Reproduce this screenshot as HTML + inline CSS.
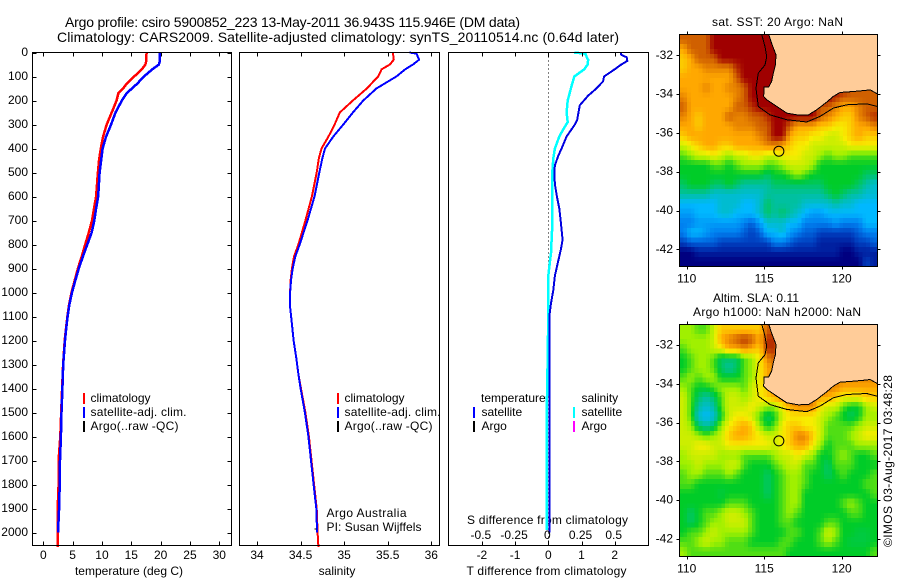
<!DOCTYPE html>
<html>
<head>
<meta charset="utf-8">
<title>Argo profile</title>
<style>
html,body{margin:0;padding:0;background:#fff;}
svg{display:block;}
text{font-family:"Liberation Sans",sans-serif;font-size:12px;fill:#000;}
</style>
</head>
<body>
<svg id="chart" xmlns="http://www.w3.org/2000/svg" width="900" height="580" viewBox="0 0 900 580">
<defs>
<clipPath id="clip-sst"><rect x="679.5" y="34.5" width="198" height="232"/></clipPath>
<clipPath id="clip-sla"><rect x="679.5" y="324.5" width="198" height="232"/></clipPath>
</defs>
<text x="65" y="27" style="font-size:14px" textLength="455">Argo profile: csiro 5900852_223 13-May-2011 36.943S 115.946E (DM data)</text>
<text x="57" y="42" style="font-size:14px" textLength="562">Climatology: CARS2009. Satellite-adjusted climatology: synTS_20110514.nc (0.64d later)</text>
<text x="712" y="26" textLength="131">sat. SST: 20 Argo: NaN</text>
<text x="713" y="302" textLength="86">Altim. SLA: 0.11</text>
<text x="693" y="316" textLength="168">Argo h1000: NaN h2000: NaN</text>
<text transform="translate(892,547) rotate(-90)" textLength="172">©IMOS 03-Aug-2017 03:48:28</text>

<text x="90.5" y="402">climatology</text>
<text x="90.5" y="416" textLength="96">satellite-adj. clim.</text>
<text x="90.5" y="430" textLength="88">Argo(..raw -QC)</text>
<text x="344.5" y="402">climatology</text>
<text x="344.5" y="416" textLength="96">satellite-adj. clim.</text>
<text x="344.5" y="430" textLength="88">Argo(..raw -QC)</text>
<text x="326.5" y="517" textLength="80">Argo Australia</text>
<text x="326.5" y="531" textLength="95">PI: Susan Wijffels</text>
<text x="481" y="402">temperature</text>
<text x="481.5" y="416">satellite</text>
<text x="481.5" y="430">Argo</text>
<text x="581.5" y="402">salinity</text>
<text x="581.5" y="416">satellite</text>
<text x="581.5" y="430">Argo</text>
<text x="467" y="524" textLength="161">S difference from climatology</text>
<text x="129" y="575" text-anchor="middle">temperature (deg C)</text>
<text x="337" y="575" text-anchor="middle">salinity</text>
<text x="546.5" y="575" text-anchor="middle" textLength="160">T difference from climatology</text>
</svg>
<script>
// ---------- profile data ----------
const tempDepths = [0,40,50,70,100,130,150,170,200,250,300,350,400,450,500,600,650,700,750,800,850,900,950,1000,1050,1100,1150,1200,1300,1400,1500,1600,1700,1800,1900,2000,2060];
const tempClim = [17.6,17.5,17.4,16.8,15.5,14.2,13.6,12.8,12.5,11.65,10.8,10.2,9.8,9.5,9.3,9.0,8.65,8.3,7.75,7.15,6.55,5.9,5.35,4.8,4.4,4.1,3.87,3.65,3.38,3.2,3.05,2.9,2.6,2.6,2.45,2.45,2.45];
const tempSat = [19.8,19.8,19.7,18.6,17.15,16,15.1,14.2,13.4,12.3,11.55,10.7,10.1,9.85,9.6,9.35,9,8.7,8.25,7.5,6.75,6.05,5.45,4.9,4.45,4.15,3.9,3.7,3.4,3.25,3.1,3,2.85,2.8,2.7,2.5];
const salDepths = [0,5,30,50,70,100,150,200,250,300,350,400,440,500,600,700,800,850,900,950,1000,1060,1130,1200,1270,1340,1400,1500,1600,1700,1800,1900,2000,2060];
const salClim = [35.56,35.56,35.57,35.525,35.43,35.39,35.26,35.10,34.95,34.89,34.82,34.74,34.71,34.685,34.63,34.555,34.475,34.425,34.40,34.385,34.38,34.38,34.40,34.42,34.45,34.475,34.505,34.555,34.595,34.625,34.655,34.685,34.695,34.705];
const salSat = [35.75,35.83,35.86,35.79,35.70,35.6,35.37,35.22,35.1,34.99,34.875,34.78,34.75,34.715,34.66,34.58,34.49,34.44,34.41,34.39,34.38,34.38,34.40,34.42,34.45,34.475,34.5,34.55,34.59,34.62,34.65,34.68,34.69];
const argoSalDepths = [1985,1985];
const argoSalValues = [34.66,34.68];
const tDiffDepths = [0,10,20,35,50,70,100,120,150,180,220,280,300,350,400,430,470,500,550,600,650,710,780,820,880,930,990,1045,1090,1200,2000];
const tDiffSat = [2.18,2.2,2.36,2.38,2.2,2,1.68,1.65,1.45,1.2,.95,.87,.8,.55,.4,.3,.2,.18,.2,.26,.33,.38,.43,.38,.28,.2,.15,.08,.04,.04,.04];
const sDiffDepths = [0,5,20,30,50,70,100,130,150,200,250,290,320,350,400,440,500,600,720,780,835,890,930,1100,1400,1500,1990];
const sDiffSat = [.196,.28,.29,.30,.297,.27,.196,.18,.17,.146,.138,.146,.113,.083,.05,.038,.03,.03,.03,.025,.02,.008,0,0,-.008,-.0125,-.0125];
const depthTicks = [0,100,200,300,400,500,600,700,800,900,1000,1100,1200,1300,1400,1500,1600,1700,1800,1900,2000];
const tempTicks = [0,5,10,15,20,25,30];
const salTicks = [34,34.5,35,35.5,36];
const tDiffTicks = [-2,-1,0,1,2];
const sDiffTicks = [-0.5,-0.25,0,0.25,0.5];
// ---------- map data (colour-scale levels, 0 = coldest/lowest, 10 = warmest/highest) ----------
const sstLevels = [
[9,9,9,9,10,10,10,10,10,10,10,10,10,10,10,10,10,10,10,10,10,10,10,10,10,10],
[8,9,9,9,10,10,10,10,10,10,10,10,10,10,10,10,10,10,10,10,10,10,10,10,10,10],
[7.5,8,9,9,9,10,10,10,10,10,10,10,10,10,10,10,10,10,10,10,10,10,10,10,10,10],
[7.5,8,8,8.5,8.5,8.5,8.5,9.5,10,10,10,10,10,10,10,10,10,10,10,10,10,10,10,10,10,10],
[8,8,8,8,8,8,8,9,10,10,10,10,10,10,10,10,10,10,10,10,10,10,10,10,10,10],
[8,8,8,8.5,8,8,8.5,8.5,9,10,10,10,10,10,10,10,10,10,10,10,10,10,9,9,9,9],
[8.5,8,8,8,8,8,8,8.5,9,10,10,10,10,10,10,10,10,10,10,10,9.5,9,9,9,9,9],
[9,8,8,8,8,8,8,9,9,9.5,10,10,10,10,10,10,10,10,9,9,8.5,8,8,8.5,9,9],
[8.5,8,7.5,8,8,8,9,8.5,8.5,9,9,9.5,10,10,10,10,10,10,9,8.5,8,7.5,7.5,8.5,9,9.5],
[8,8,7.5,8,8,8,8,8.5,8.5,8.5,9,9,10,10,9,8,8,8,7.5,7.5,7,7,7.5,8,8,8.5],
[7.5,8,8,8,8,8,8,8,8,8,8.5,9,10,10,8,7.5,7.5,7,7,6.5,6.5,7,7.5,8,7.5,7.5],
[6.5,7,7.5,8,8,7.5,7.5,8,8,8,8,8.5,8.5,8,7.5,7,7,6.5,6.5,6.5,6.5,6.5,7,7,7,7],
[5.5,6,6.5,6.5,7,6.5,6,6.5,6.5,7,7,6.5,6.5,7,7,7,6.5,6.5,6,5.5,6,6,5.5,5.5,5.5,5.5],
[5,5,5,5,5.5,5.5,5,5.5,6,6,6,5.5,5.5,6,6.5,6.5,6.5,6,5,5,5,5,5,5,5,5],
[5,5,5,5,5,5,5,5,5,5,5,4.5,5,5,5.5,6,5.5,5,5,5,5,5,5,5,4.5,4.5],
[4.5,5,5,5,4.5,4.5,5,4.5,4,4,4,4,4.5,4.5,4.5,4.5,4.5,4.5,4.5,5,5,5,5,4.5,4,3.5],
[4,4,4,4,3.5,3.5,3.5,3.5,3.5,3.5,3.5,4,4,4,4,4,4,4,4,4.5,5,4.5,4,4,3.5,3.5],
[3,3,3,3,3,3.5,3.5,3.5,3,3,3.5,4.5,4,4,4,4,3.5,3.5,3.5,3.5,4,3.5,3.5,3,3,3],
[2.5,2.5,3,3,3,3.5,3.5,3,3,3,3.5,4.5,4,4.5,4,3.5,3,2.5,2.5,3,3,3,3,3,3,3],
[2,2,2.5,2.5,2.5,2.5,2.5,2.5,2,1.5,2.5,3.5,3.5,3.5,3,3,2,2,2,2,2.5,2,2,2,3,3],
[2,3,3,2.5,2,2,2,2,1.5,1,1.5,3,3,3.5,2.5,2,1.5,1.5,1,1,1,1,1,1.5,2,2],
[1,1.5,1.5,1.5,1.5,1,1,1,1,1,1,1,2,2,1.5,1,1,1,.5,.5,.5,.5,.5,1,1,1.5],
[0,0,.5,.5,.5,.5,.5,.5,.5,.5,.5,.5,.5,.5,.5,.5,.5,.5,.5,.5,.5,0,0,.5,.5,.5],
[0,0,0,0,0,0,0,0,0,0,0,0,0,0,0,0,0,0,0,0,0,0,0,0,1,.5]
];
const slaLevels = [
[6,6,5.5,5.5,6.5,7.5,7.5,7.5,7.5,7.5,7.5,9,9,8,8,8,8,8,8,8,8,8,8,8,8,8],
[6,6,6,6,6.5,8,8.5,9,9.5,9,8,9.5,9.5,8,8,8,8,8,8,8,8,8,8,8,8,8],
[5.5,6,6,6,6.5,7,8,8,8.5,8,7.5,9.5,9.5,8,8,8,8,8,8,8,8,8,8,8,8,8],
[5,5.5,6,6,5.5,4.5,4.5,4.5,5.5,6,7,8.5,9,8,8,8,8,8,8,8,8,8,8,8,8,8],
[5,5.5,6,6,5.5,4.5,4,4.5,5.5,6,7,8,8.5,8,8,8,8,8,8,8,8,8,8,8,8,8],
[5.5,6,5.5,6,6,5,5,5,5.5,6,7,8,8.5,8.5,8.5,8.5,8.5,8.5,8.5,8.5,8.5,8.5,8.5,8.5,8.5,8.5],
[6,5.5,5,5,5.5,6,6,6,5.5,6.5,7,7.5,8.5,8.5,8.5,8.5,8.5,8.5,8.5,8.5,8.5,8,8,8,8,8],
[6.5,5.5,4.5,4,4.5,5.5,6.5,6.5,6,6.5,7,7.5,8,8.5,8.5,8.5,8.5,8.5,8,8,7.5,7,7,7,7.5,7.5],
[6.5,5.5,4,3.5,4,5.5,6.5,6.5,6.5,7,6.5,6,6,7,8,8.5,8.5,8.5,7,6.5,6.5,5.5,5,5,6,6.5],
[6.5,5.5,3.5,3,3.5,5,6.5,7,7,6.5,5.5,4.5,5,6.5,7,7,7,7,6.5,6,5.5,5,4.5,5,6,6],
[6.5,6,4.5,4,4.5,6,7,7.5,8,7.5,6,5,5.5,7,7.5,7.5,7,7,6.5,5.5,5.5,5.5,5.5,6,6.5,6.5],
[6.5,6.5,6,5.5,6,6.5,7.5,8,8,7.5,7,6.5,6.5,7,7.5,8.5,8.5,7.5,6.5,5.5,5.5,5.5,6,6.5,7,7],
[6.5,6.5,7,7,6.5,6.5,7,7,7,7,7,7,6.5,7,7.5,8,8,7,6,5,5.5,5.5,5.5,6,6,6],
[6,6.5,6.5,6.5,6.5,6,6,6,5.5,5.5,5.5,5.5,6,6.5,6.5,7,6.5,6,5,5,5.5,6,5.5,5,5,5.5],
[6,6,6.5,6,6,6,6.5,6.5,5.5,5,5,5,5.5,6,6.5,6.5,5.5,5.5,5,4.5,5.5,5.5,5.5,5,5,5],
[5.5,6,6,5.5,5.5,5.5,6,5.5,5,5,5,4.5,5,5.5,6,6,5.5,5,5,4.5,5,5.5,5,5,5,5.5],
[5.5,5.5,5,5,5,5,5,5,5,5,5,4.5,5,5.5,6,6,5.5,5,5,5,5,5,5,5,5.5,5.5],
[5,5,5,5,5,4.8,5,5,5,5,5,4.5,5,5.5,6,6,5,5,5,5,5,5,5,5,5,5.5],
[5,5,5,5,5,5,5.5,5.5,5.5,5,5,5,5,5.5,6,6,5,5,5,5,5,5.5,6,5.5,5,5],
[5,4.5,5,5.5,5.5,6,6.5,6.5,6,5.5,5,5,5,5.5,6,5.5,5,5,5,5,5,5,5.5,5.5,5,5],
[5,4.5,5,5.5,6,6,6.5,6.5,6.5,5.5,5,5,5,5.5,5.5,5,5,5,5,5.5,5.5,5,5,5,5,5],
[5,5.5,5.5,6,6.5,6,6,6,6,5.5,5,5,5,5,5.5,5.5,5,5,5.5,6.5,6,5,5,4.8,4.8,5],
[5.5,5.5,6,6.5,6,6,5.5,5.5,5.5,5,5,5,5,5.5,5.5,5,5,5,5.5,6,5.5,5,4.8,4.8,4.8,5],
[6,5.5,5.5,5.5,5.5,5.5,5.5,5.5,5.5,5.5,5.5,5.5,5.5,5.5,5,5,5,5,5,5,5,5,5,5,5,5.5]
];
const coastLon = [115.29,115.48,115.76,115.72,115.59,115.48,115.29,114.99,114.97,115.16,115.81,116.45,117.20,117.85,118.39,119.03,119.46,119.89,120.65,121.40,121.83,122.30];
const coastLat = [-30.92,-31.38,-31.98,-32.50,-32.92,-33.35,-33.64,-33.64,-34.12,-34.29,-34.64,-34.98,-35.08,-35.07,-34.81,-34.41,-34.12,-33.92,-33.87,-33.82,-33.78,-33.99];
const isobathLon = [114.84,115.05,115.16,115.05,114.62,114.47,114.62,115.38,116.45,117.74,118.6,119.46,120.32,121.61,122.3];
const isobathLat = [-30.92,-31.55,-32.07,-32.5,-32.92,-33.7,-34.64,-35.07,-35.32,-35.44,-35.15,-34.72,-34.55,-34.5,-34.64];
const argoLon = 115.946;
const argoLat = -36.943;
const lonTicks = [110,115,120];
const latTicks = [-32,-34,-36,-38,-40,-42];
const colourStops = ['#000080','#0040c0','#0080f0','#00b8ff','#00c0a0','#00cc28','#a0f000','#f8ec00','#ffa800','#d06000','#a00000'];

// ---------- helpers ----------
const svg = document.getElementById('chart');
const NS = 'http://www.w3.org/2000/svg';
function mk(tag, attrs, parent){
  const e = document.createElementNS(NS, tag);
  for (const k in attrs) e.setAttribute(k, attrs[k]);
  (parent || svg).appendChild(e);
  return e;
}
function label(str, x, y, anchor){
  const t = mk('text', {x:x, y:y, 'text-anchor':anchor||'middle'});
  t.textContent = str;
  return t;
}
const yDepth = d => 52.5 + d * 0.24;
const xTemp = v => 43.3 + v * 5.867;
const xSal = v => 257 + (v - 34) * 87.15;
const xTDiff = v => 548.3 + v * 33.2;
const xSDiff = v => 548.3 + v * 132.8;
const xLon = v => 686.7 + (v - 110) * 15.5;
const ySstLat = v => 55.3 + (-32 - v) * 19.4;
const ySlaLat = v => 345 + (-32 - v) * 19.4;

function hexToRgb(h){ return [1,3,5].map(i => parseInt(h.substr(i,2),16)); }
function colourFor(level){
  const l = Math.max(0, Math.min(10, level));
  const i = Math.min(9, Math.floor(l));
  const f = l - i;
  const a = hexToRgb(colourStops[i]), b = hexToRgb(colourStops[i+1]);
  return 'rgb(' + a.map((c,k) => Math.round(c + (b[k]-c)*f)).join(',') + ')';
}

function drawProfile(xf, depths, values, colour, width, name){
  const n = Math.min(depths.length, values.length);
  const pts = [];
  for (let i = 0; i < n; i++) pts.push(xf(values[i]).toFixed(1) + ',' + yDepth(depths[i]).toFixed(1));
  const line = mk('polyline', {points:pts.join(' '), fill:'none', stroke:colour, 'stroke-width':width, 'shape-rendering':'crispEdges'});
  
  
}

function drawPanel(left, width, xf, ticks, tickText, name, yTicks){
  const top = 52.5, bottom = 545.5;
  const frame = mk('rect', {x:left, y:top, width:width, height:bottom-top, fill:'none', stroke:'#000', 'stroke-width':1, 'shape-rendering':'crispEdges'});
  
  
  ticks.forEach(t => {
    const x = Math.round(xf(t)) + 0.5;
    const tk = mk('path', {d:'M'+x+' '+top+'v4M'+x+' '+bottom+'v-4', stroke:'#000', fill:'none', 'shape-rendering':'crispEdges'});
    
    
    const lb = label(tickText(t), xf(t), 559);
    
    
  });
  if (yTicks) {
    depthTicks.forEach(d => {
      const y = Math.round(yDepth(d)) + 0.5;
      const tk = mk('path', {d:'M'+left+' '+y+'h4M'+(left+width)+' '+y+'h-4', stroke:'#000', fill:'none', 'shape-rendering':'crispEdges'});
      
      
      const lb = label(String(d), 28, yDepth(d) + 3.5, 'end');
      
      
    });
  }
}

function legendBar(x, y, colour, name){
  const r = mk('rect', {x:x, y:y, width:2, height:11, fill:colour, 'shape-rendering':'crispEdges'});
  
  
}

function drawMap(levels, yLat, top, clipId, name){
  const g = mk('g', {'clip-path':'url(#' + clipId + ')'});
  
  
  const rows = levels.length, cols = levels[0].length;
  const cw = 198 / (cols * 2), ch = 232 / (rows * 2);
  const at = (r,c) => levels[Math.max(0,Math.min(rows-1,r))][Math.max(0,Math.min(cols-1,c))];
  for (let j = 0; j < rows * 2; j++) {
    for (let i = 0; i < cols * 2; i++) {
      const u = (i - 0.5) / 2, v = (j - 0.5) / 2;
      const c0 = Math.floor(u), r0 = Math.floor(v);
      const fu = u - c0, fv = v - r0;
      const val = (at(r0,c0)*(1-fu) + at(r0,c0+1)*fu)*(1-fv) + (at(r0+1,c0)*(1-fu) + at(r0+1,c0+1)*fu)*fv;
      const cell = mk('rect', {x:(679.5+i*cw).toFixed(2), y:(top+j*ch).toFixed(2), width:(cw+0.6).toFixed(2), height:(ch+0.6).toFixed(2), fill:colourFor(val), 'shape-rendering':'crispEdges'}, g);
      
      
    }
  }
  const coastPts = coastLon.map((lo,i) => xLon(lo).toFixed(1) + ',' + yLat(coastLat[i]).toFixed(1));
  const land = mk('polygon', {points:coastPts.join(' ') + ' ' + xLon(123).toFixed(1) + ',' + yLat(coastLat[coastLat.length-1]).toFixed(1) + ' ' + xLon(123).toFixed(1) + ',' + yLat(-30).toFixed(1) + ' ' + xLon(coastLon[0]).toFixed(1) + ',' + yLat(-30).toFixed(1), fill:'#ffcc99', stroke:'#000', 'stroke-width':1, 'shape-rendering':'crispEdges'}, g);
  
  
  const iso = mk('polyline', {points:isobathLon.map((lo,i) => xLon(lo).toFixed(1) + ',' + yLat(isobathLat[i]).toFixed(1)).join(' '), fill:'none', stroke:'#000', 'stroke-width':1, 'shape-rendering':'crispEdges'}, g);
  
  
  const dot = mk('circle', {cx:xLon(argoLon), cy:yLat(argoLat), r:5, fill:'none', stroke:'#000', 'stroke-width':1});
  
  
  const frame = mk('rect', {x:679.5, y:top, width:198, height:232, fill:'none', stroke:'#000', 'shape-rendering':'crispEdges'});
  
  
  lonTicks.forEach(t => {
    const x = Math.round(xLon(t)) + 0.5;
    const tk = mk('path', {d:'M'+x+' '+top+'v-3M'+x+' '+(top+232)+'v3', stroke:'#000', fill:'none', 'shape-rendering':'crispEdges'});
    
    
    const lb = label(String(t), xLon(t), top + 248);
    
    
  });
  latTicks.forEach(t => {
    const y = Math.round(yLat(t)) + 0.5;
    const tk = mk('path', {d:'M679.5 '+y+'h-3M877.5 '+y+'h3', stroke:'#000', fill:'none', 'shape-rendering':'crispEdges'});
    
    
    const lb = label(String(t), 673, yLat(t) + 3.5, 'end');
    
    
  });
}

// ---------- build ----------
drawMap(sstLevels, ySstLat, 34.5, 'clip-sst', 'sst');
drawMap(slaLevels, ySlaLat, 324.5, 'clip-sla', 'sla');

drawProfile(xTemp, tempDepths, tempClim, '#ff0000', 2.5, 'temperature-climatology-line');
drawProfile(xTemp, tempDepths, tempSat, '#0000ff', 2.5, 'temperature-satellite-line');
drawProfile(xSal, salDepths, salClim, '#ff0000', 2, 'salinity-climatology-line');
drawProfile(xSal, salDepths, salSat, '#0000ff', 2, 'salinity-satellite-line');
drawProfile(xSal, argoSalDepths, argoSalValues, '#000000', 1, 'salinity-argo-mark');

const zeroLine = mk('line', {x1:xTDiff(0), x2:xTDiff(0), y1:yDepth(0), y2:545, stroke:'#000', 'stroke-dasharray':'1 3', 'shape-rendering':'crispEdges'});


drawProfile(xSDiff, sDiffDepths, sDiffSat, '#00ffff', 2.5, 'salinity-difference-line');
drawProfile(xTDiff, tDiffDepths, tDiffSat, '#0000e0', 2, 'temperature-difference-line');

drawPanel(32.5, 199, xTemp, tempTicks, String, 'temperature-panel', true);
drawPanel(239.5, 200, xSal, salTicks, String, 'salinity-panel', false);
drawPanel(448.5, 200, xTDiff, tDiffTicks, String, 'difference-panel', false);

sDiffTicks.forEach(t => {
  const lb = label(String(t), xSDiff(t) - 1, 539);
  
  
});

legendBar(83, 393, '#ff0000', 'legend-climatology-swatch');
legendBar(83, 407, '#0000ff', 'legend-satellite-swatch');
legendBar(83, 421, '#000000', 'legend-argo-swatch');
legendBar(337, 393, '#ff0000', 'sal-legend-climatology-swatch');
legendBar(337, 407, '#0000ff', 'sal-legend-satellite-swatch');
legendBar(337, 421, '#000000', 'sal-legend-argo-swatch');
legendBar(473, 407, '#0000ff', 'diff-legend-t-satellite-swatch');
legendBar(473, 421, '#000000', 'diff-legend-t-argo-swatch');
legendBar(573, 407, '#00ffff', 'diff-legend-s-satellite-swatch');
legendBar(573, 421, '#ff00ff', 'diff-legend-s-argo-swatch');
</script>
</body>
</html>
